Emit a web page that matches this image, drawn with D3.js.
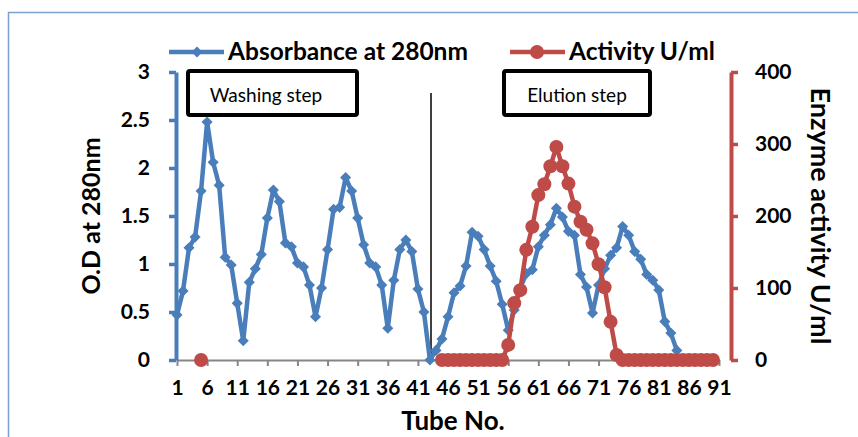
<!DOCTYPE html>
<html>
<head>
<meta charset="utf-8">
<script src="https://cdn.jsdelivr.net/npm/d3@7"></script>
<style>
  body { margin: 0; background: #fff; }
  text { font-family: Lato, "Open Sans", sans-serif; }
</style>
</head>
<body>
<div id="main"></div>
<script>
// Absorbance at 280nm, tubes 1..84
const absorbance = [
  0.47, 0.72, 1.17, 1.28, 1.76, 2.48, 2.06, 1.82, 1.07, 0.99,
  0.59, 0.20, 0.81, 0.95, 1.10, 1.48, 1.77, 1.65, 1.22, 1.18,
  1.01, 0.97, 0.78, 0.45, 0.75, 1.15, 1.57, 1.59, 1.90, 1.76,
  1.48, 1.20, 1.01, 0.97, 0.78, 0.33, 0.83, 1.15, 1.25, 1.13,
  0.74, 0.50, 0.00, 0.10, 0.22, 0.45, 0.70, 0.77, 0.98, 1.33,
  1.29, 1.15, 0.98, 0.82, 0.58, 0.31, 0.52, 0.75, 0.90, 0.94,
  1.18, 1.30, 1.41, 1.58, 1.49, 1.34, 1.30, 0.89, 0.76, 0.49,
  0.78, 0.95, 1.09, 1.17, 1.39, 1.30, 1.13, 1.05, 0.89, 0.83,
  0.73, 0.40, 0.28, 0.10
];

// Activity U/ml, measured tubes only
const activityTubes = [
  5,
  45, 46, 47, 48, 49, 50, 51, 52, 53, 54, 55,
  56, 57, 58, 59, 60, 61, 62, 63, 64, 65, 66, 67, 68, 69, 70, 71, 72, 73, 74,
  75, 76, 77, 78, 79, 80, 81, 82, 83, 84, 85, 86, 87, 88, 89, 90
];
const activity = [
  0,
  0, 0, 0, 0, 0, 0, 0, 0, 0, 0, 0,
  21, 79, 97, 153, 185, 229, 244, 269, 296, 269, 245, 213, 192, 181, 162, 133, 101, 53, 7,
  0, 0, 0, 0, 0, 0, 0, 0, 0, 0, 0, 0, 0, 0, 0, 0
];

const xTicks = [1, 6, 11, 16, 21, 26, 31, 36, 41, 46, 51, 56, 61, 66, 71, 76, 81, 86, 91];
const odTicks = [0, 0.5, 1, 1.5, 2, 2.5, 3];
const actTicks = [0, 100, 200, 300, 400];

const blue = '#4A7EBB';
const red = '#BE4B48';

const w = 858, h = 437;

const svg = d3.select('#main')
  .append('svg')
  .attr('width', w)
  .attr('height', h);

// chart border
svg.append('rect')
  .attr('x', 8.5).attr('y', 12.5)
  .attr('width', 900).attr('height', 500)
  .attr('fill', 'none')
  .attr('stroke', '#7BA0CD')
  .attr('stroke-width', 1.5);

// Scales
const x = d3.scaleLinear().domain([1, 91]).range([177, 719]);
const yL = d3.scaleLinear().domain([0, 3]).range([360, 72]);
const yR = d3.scaleLinear().domain([0, 400]).range([360, 72]);

const tickFont = (sel) => sel
  .style('font-size', '21px').style('font-weight', 'bold').attr('fill', '#000')
  .style('font-family', 'Lato, sans-serif');

// X axis
const xAxis = svg.append('g')
  .attr('transform', 'translate(0,360)')
  .call(d3.axisBottom(x).tickValues(xTicks).tickSize(6).tickSizeOuter(0).tickPadding(14));
xAxis.select('.domain').attr('stroke', '#868686').attr('stroke-width', 2);
xAxis.selectAll('.tick line').attr('stroke', '#868686').attr('stroke-width', 2);
xAxis.selectAll('.tick text').call(tickFont);

// Left axis
const left = svg.append('g')
  .attr('transform', 'translate(176,0)')
  .call(d3.axisLeft(yL).tickValues(odTicks).tickFormat(d3.format('')).tickSize(7).tickSizeOuter(0).tickPadding(19));
left.select('.domain').attr('stroke', blue).attr('stroke-width', 4);
left.selectAll('.tick line').attr('stroke', blue).attr('stroke-width', 3.5);
left.selectAll('.tick text').call(tickFont);

// Right axis
const right = svg.append('g')
  .attr('transform', 'translate(731,0)')
  .call(d3.axisRight(yR).tickValues(actTicks).tickSize(7).tickSizeOuter(0).tickPadding(17));
right.select('.domain').attr('stroke', red).attr('stroke-width', 4);
right.selectAll('.tick line').attr('stroke', red).attr('stroke-width', 3.5);
right.selectAll('.tick text').call(tickFont);

// Axis titles
svg.append('text')
  .attr('transform', 'translate(100,216) rotate(-90)')
  .attr('text-anchor', 'middle')
  .style('font-size', '25px').style('font-weight', 'bold')
  .text('O.D at 280nm');

svg.append('text')
  .attr('transform', 'translate(811,216) rotate(90)')
  .attr('text-anchor', 'middle')
  .style('font-size', '27px').style('font-weight', 'bold')
  .text('Enzyme activity U/ml');

svg.append('text')
  .attr('x', 453).attr('y', 430)
  .attr('text-anchor', 'middle')
  .style('font-size', '26px').style('font-weight', 'bold')
  .text('Tube No.');

// step boxes
const boxes = [
  { label: 'Washing step', x0: 188, x1: 357, tx: 266 },
  { label: 'Elution step', x0: 504, x1: 650, tx: 577 }
];
boxes.forEach((b) => {
  svg.append('rect')
    .attr('x', b.x0).attr('y', 71)
    .attr('width', b.x1 - b.x0).attr('height', 44)
    .attr('rx', 2)
    .attr('fill', '#fff')
    .attr('stroke', '#000')
    .attr('stroke-width', 4);
  svg.append('text')
    .attr('x', b.tx).attr('y', 102)
    .attr('text-anchor', 'middle')
    .style('font-size', '19px')
    .text(b.label);
});

// separator line
svg.append('line')
  .attr('x1', 431).attr('x2', 431)
  .attr('y1', 93).attr('y2', 362)
  .attr('stroke', '#000')
  .attr('stroke-width', 1.5);

// Absorbance series
const absData = absorbance.map((v, i) => [i + 1, v]);
const absLine = d3.line().x((d) => x(d[0])).y((d) => yL(d[1]));

svg.append('path')
  .datum(absData)
  .attr('d', absLine)
  .attr('fill', 'none')
  .attr('stroke', blue)
  .attr('stroke-width', 4.5)
  .attr('stroke-linejoin', 'round');

const diamond = d3.symbol().type(d3.symbolDiamond2).size(78);
svg.selectAll('.abs-pt')
  .data(absData)
  .enter()
  .append('path')
  .attr('class', 'abs-pt')
  .attr('d', diamond)
  .attr('transform', (d) => `translate(${x(d[0])},${yL(d[1])})`)
  .attr('fill', blue);

// Activity series (tube 5 point stands alone)
const actData = activityTubes.map((t, i) => [t, activity[i]]);
const actLine = d3.line()
  .defined((d, i) => i > 0)
  .x((d) => x(d[0])).y((d) => yR(d[1]));

svg.append('path')
  .datum(actData)
  .attr('d', actLine)
  .attr('fill', 'none')
  .attr('stroke', red)
  .attr('stroke-width', 4.5);

svg.selectAll('.act-pt')
  .data(actData)
  .enter()
  .append('circle')
  .attr('class', 'act-pt')
  .attr('cx', (d) => x(d[0]))
  .attr('cy', (d) => yR(d[1]))
  .attr('r', 7)
  .attr('fill', red);

// Legend
const legend = svg.append('g');
legend.append('line')
  .attr('x1', 169).attr('x2', 224).attr('y1', 52).attr('y2', 52)
  .attr('stroke', blue).attr('stroke-width', 4.5);
legend.append('path')
  .attr('d', diamond)
  .attr('transform', 'translate(197,52)')
  .attr('fill', blue);
legend.append('text')
  .attr('x', 228).attr('y', 60)
  .style('font-size', '24.5px').style('font-weight', 'bold')
  .text('Absorbance at 280nm');

legend.append('line')
  .attr('x1', 510).attr('x2', 565).attr('y1', 52).attr('y2', 52)
  .attr('stroke', red).attr('stroke-width', 4.5);
legend.append('circle')
  .attr('cx', 537).attr('cy', 52).attr('r', 7)
  .attr('fill', red);
legend.append('text')
  .attr('x', 569).attr('y', 60)
  .style('font-size', '24.5px').style('font-weight', 'bold')
  .text('Activity U/ml');
</script>
</body>
</html>
